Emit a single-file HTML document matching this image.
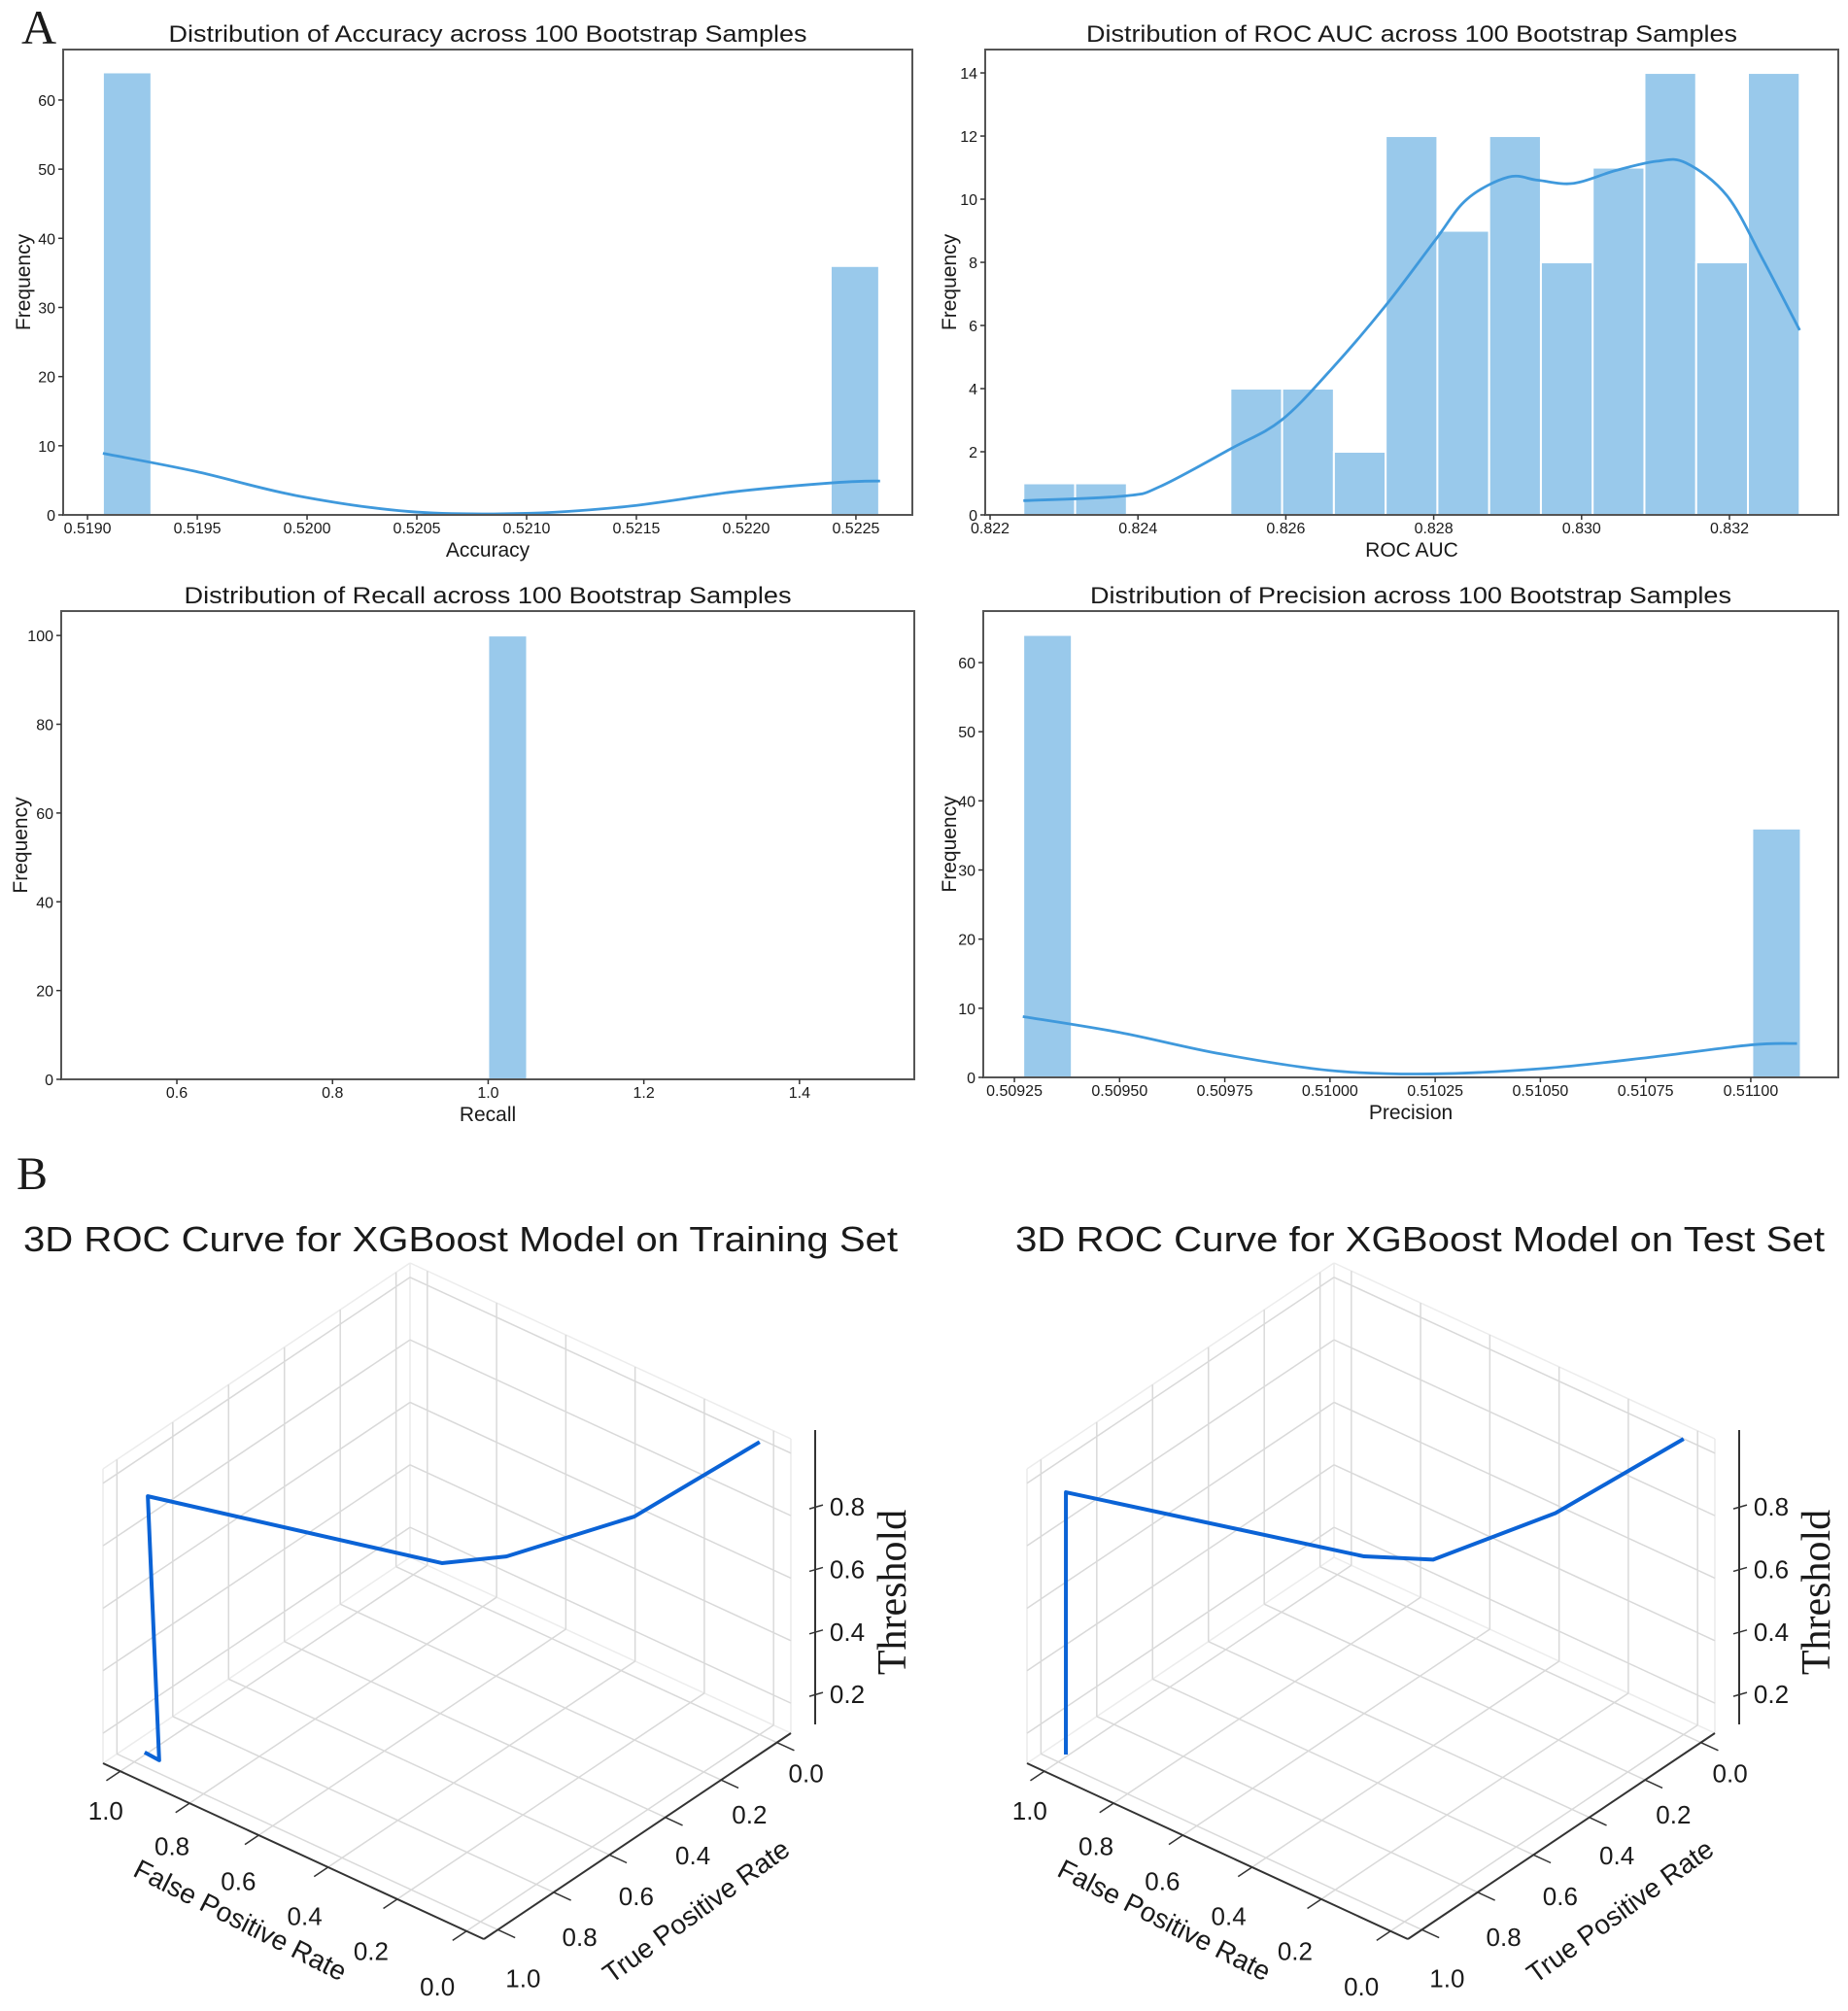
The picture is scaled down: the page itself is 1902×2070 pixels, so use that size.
<!DOCTYPE html>
<html><head><meta charset="utf-8">
<style>
html,body{margin:0;padding:0;background:#fff;}
svg{display:block;}
text{font-family:"Liberation Sans",Arial,sans-serif;fill:#1a1a1a;}
.serif{font-family:"Liberation Serif","DejaVu Serif",serif;}
</style></head>
<body>
<svg id="fig" xmlns="http://www.w3.org/2000/svg" width="1902" height="2070" viewBox="0 0 1902 2070">
<rect x="0" y="0" width="1902" height="2070" fill="#fff"/>
<text class="serif" x="22" y="45" font-size="50">A</text>
<text class="serif" x="17" y="1224" font-size="48">B</text>
</svg>
<script>
// ---------- Histogram data ----------
const accCounts = [64,0,0,0,0,0,0,0,0,0,0,0,0,0,0,36];
const accKdeX = [0.51907,0.51949,0.51995,0.52046,0.52097,0.52145,0.52196,0.52242,0.52261];
const accKdeY = [8.9,6.3,2.8,0.5,0.2,1.2,3.4,4.7,4.9];
const accXTicks = [0.5190,0.5195,0.5200,0.5205,0.5210,0.5215,0.5220,0.5225];
const accYTicks = [0,10,20,30,40,50,60];

const aucCounts = [1,1,0,0,4,4,2,12,9,12,8,11,14,8,14];
const aucKdeX = [0.82245,0.82382,0.8243,0.82526,0.82594,0.82661,0.82734,0.82802,0.82845,0.82901,0.82941,0.82989,0.83045,0.83101,0.83141,0.83197,0.83245,0.83295];
const aucKdeY = [0.45,0.6,0.9,2.1,3.0,4.6,6.6,8.7,10,10.7,10.6,10.5,10.9,11.2,11.15,10.1,8.1,5.85];
const aucXTicks = [0.822,0.824,0.826,0.828,0.830,0.832];
const aucYTicks = [0,2,4,6,8,10,12,14];

const recCounts = [100];
const recXTicks = [0.6,0.8,1.0,1.2,1.4];
const recYTicks = [0,20,40,60,80,100];

const preCounts = [64,0,0,0,0,0,0,0,0,0,0,0,0,0,0,36];
const preKdeX = [0.50927,0.5095,0.50974,0.51,0.51024,0.51051,0.51076,0.511,0.51111];
const preKdeY = [8.8,6.5,3.4,1.0,0.5,1.3,2.9,4.7,4.9];
const preXTicks = [0.50925,0.50950,0.50975,0.51000,0.51025,0.51050,0.51075,0.51100];
const preYTicks = [0,10,20,30,40,50,60];

// ---------- 3D ROC data ----------
const trainFpr = [0.0,0.10,0.288,0.434,0.977,0.928,0.97];
const trainTpr = [0.0,0.325,0.55,0.60,0.98,1.0,1.0];
const trainThr = [1.04,0.945,0.856,0.79,0.954,0.146,0.15];
const testFpr = [0.0,0.104,0.28,0.439,0.994,0.978];
const testTpr = [0.0,0.33,0.55,0.60,0.98,1.0];
const testThr = [1.05,0.957,0.85,0.809,0.958,0.139];
const rocTicks = [0,0.2,0.4,0.6,0.8,1.0];
const thrTicks = [0.2,0.4,0.6,0.8];

const NS = "http://www.w3.org/2000/svg";
const svg = document.getElementById('fig');
function mk(tag, attrs, parent){
  const e = document.createElementNS(NS, tag);
  for (const k in attrs) e.setAttribute(k, attrs[k]);
  (parent||svg).appendChild(e);
  return e;
}
function smoothPath(pts){
  let d = "M"+pts[0][0]+","+pts[0][1];
  for (let i=0;i<pts.length-1;i++){
    const p0=pts[Math.max(0,i-1)], p1=pts[i], p2=pts[i+1], p3=pts[Math.min(pts.length-1,i+2)];
    const c1=[p1[0]+(p2[0]-p0[0])/6, p1[1]+(p2[1]-p0[1])/6];
    const c2=[p2[0]-(p3[0]-p1[0])/6, p2[1]-(p3[1]-p1[1])/6];
    d += " C"+c1[0]+","+c1[1]+" "+c2[0]+","+c2[1]+" "+p2[0]+","+p2[1];
  }
  return d;
}

function hist(c){
  const g = mk('g', {});
  
  
  const sx = v => c.L + (v - c.xmin)/(c.xmax - c.xmin)*(c.R - c.L);
  const sy = v => c.B - (v - 0)/(c.ymax)*(c.B - c.T);
  c.counts.forEach((n,i)=>{
    if (n<=0) return;
    const x0 = sx(c.binStart + i*c.binW), x1 = sx(c.binStart + (i+1)*c.binW);
    const r = mk('rect', {x:x0, y:sy(n), width:x1-x0, height:sy(0)-sy(n), fill:'#99c9eb', stroke:'#ffffff', 'stroke-width':2}, g);
    
    
  });
  if (c.kx){
    const pts = c.kx.map((v,i)=>[sx(v), sy(c.ky[i])]);
    const p = mk('path', {d:smoothPath(pts), fill:'none', stroke:'#3f99dc', 'stroke-width':2.8}, g);
    
    
  }
  const f = mk('rect', {x:c.L, y:c.T, width:c.R-c.L, height:c.B-c.T, fill:'none', stroke:'#555', 'stroke-width':2}, g);
  
  
  c.xt.forEach(v=>{
    const x = sx(v);
    mk('line', {x1:x, y1:c.B, x2:x, y2:c.B+5, stroke:'#333', 'stroke-width':1.5}, g);
    const t = mk('text', {x:x, y:c.B+19, 'font-size':16, 'text-anchor':'middle'}, g);
    t.textContent = v.toFixed(c.xdec);
    
    
  });
  c.yt.forEach(v=>{
    const y = sy(v);
    mk('line', {x1:c.L-5, y1:y, x2:c.L, y2:y, stroke:'#333', 'stroke-width':1.5}, g);
    const t = mk('text', {x:c.L-8, y:y+6, 'font-size':16, 'text-anchor':'end'}, g);
    t.textContent = String(v);
    
    
  });
  const title = mk('text', {x:(c.L+c.R)/2, y:c.T-8, 'font-size':24, 'text-anchor':'middle', textLength:c.titleW, lengthAdjust:'spacingAndGlyphs'}, g);
  title.textContent = c.title;
  
  
  const xl = mk('text', {x:(c.L+c.R)/2, y:c.B+43, 'font-size':21, 'text-anchor':'middle'}, g);
  xl.textContent = c.xlabel;
  
  
  const yc = (c.T+c.B)/2;
  const yl = mk('text', {x:c.ylx, y:yc, 'font-size':21, 'text-anchor':'middle', transform:'rotate(-90 '+c.ylx+' '+yc+')'}, g);
  yl.textContent = 'Frequency';
  
  
}

hist({name:'accuracy-histogram', L:65, R:939, T:51, B:530, xmin:0.518889, xmax:0.522757, ymax:67.3,
  binStart:0.51907, binW:0.000221, counts:accCounts, kx:accKdeX, ky:accKdeY, xt:accXTicks, xdec:4, yt:accYTicks,
  title:'Distribution of Accuracy across 100 Bootstrap Samples', titleW:657, xlabel:'Accuracy', ylx:31});
hist({name:'roc-auc-histogram', L:1014, R:1892, T:51, B:530, xmin:0.821934, xmax:0.833472, ymax:14.74,
  binStart:0.82245, binW:0.0007, counts:aucCounts, kx:aucKdeX, ky:aucKdeY, xt:aucXTicks, xdec:3, yt:aucYTicks,
  title:'Distribution of ROC AUC across 100 Bootstrap Samples', titleW:670, xlabel:'ROC AUC', ylx:984});
hist({name:'recall-histogram', L:63, R:941, T:629, B:1111, xmin:0.4514, xmax:1.5475, ymax:105.5,
  binStart:1.0, binW:0.05, counts:recCounts, kx:null, ky:null, xt:recXTicks, xdec:1, yt:recYTicks,
  title:'Distribution of Recall across 100 Bootstrap Samples', titleW:625, xlabel:'Recall', ylx:28});
hist({name:'precision-histogram', L:1012, R:1892, T:629, B:1109, xmin:0.509176, xmax:0.511208, ymax:67.45,
  binStart:0.509271, binW:0.0001155, counts:preCounts, kx:preKdeX, ky:preKdeY, xt:preXTicks, xdec:5, yt:preYTicks,
  title:'Distribution of Precision across 100 Bootstrap Samples', titleW:660, xlabel:'Precision', ylx:984});

// ---------- 3D plots ----------
const ZMIN = 0.104, ZMAX = 1.046, LO = -0.05, HI = 1.05;
function roc3d(name, ox, title, titleX, titleW, fpr, tpr, thr){
  const g = mk('g', {});
  
  
  const P = (f,t,z) => {
    const fp = (f-LO)/(HI-LO), tp = (HI-t)/(HI-LO), zf = (z-ZMIN)/(ZMAX-ZMIN);
    return [ox + 498 - 392*fp + 316*tp, 1996 - 181*fp - 212*tp - 303*zf];
  };
  const line = (a,b,attrs) => mk('line', Object.assign({x1:a[0],y1:a[1],x2:b[0],y2:b[1]}, attrs), g);
  const gridA = {stroke:'#d9d9d9','stroke-width':1.5};
  const edgeA = {stroke:'#ececec','stroke-width':1.5};
  line(P(HI,LO,ZMIN),P(HI,LO,ZMAX),edgeA); line(P(HI,HI,ZMIN),P(HI,HI,ZMAX),edgeA);
  line(P(LO,LO,ZMIN),P(LO,LO,ZMAX),edgeA);
  line(P(HI,HI,ZMAX),P(HI,LO,ZMAX),edgeA); line(P(HI,LO,ZMAX),P(LO,LO,ZMAX),edgeA);
  line(P(HI,HI,ZMIN),P(HI,LO,ZMIN),edgeA); line(P(HI,LO,ZMIN),P(LO,LO,ZMIN),edgeA);
  rocTicks.forEach(v=>{
    line(P(v,LO,ZMIN),P(v,HI,ZMIN),gridA);
    line(P(LO,v,ZMIN),P(HI,v,ZMIN),gridA);
    line(P(HI,v,ZMIN),P(HI,v,ZMAX),gridA);
    line(P(v,LO,ZMIN),P(v,LO,ZMAX),gridA);
  });
  thrTicks.concat([1.0]).forEach(z=>{
    line(P(HI,LO,z),P(HI,HI,z),gridA);
    line(P(LO,LO,z),P(HI,LO,z),gridA);
  });
  const axA = {stroke:'#333','stroke-width':2};
  line(P(HI,HI,ZMIN),P(LO,HI,ZMIN),axA);
  line(P(LO,HI,ZMIN),P(LO,LO,ZMIN),axA);
  const zb = P(LO,LO,ZMIN), zt = P(LO,LO,ZMAX);
  const zax = [zb[0]+25, zb[1]-9], zax2 = [zt[0]+25, zt[1]-9];
  line(zax, zax2, axA);
  rocTicks.forEach(v=>{
    const a = P(v,HI,ZMIN), b = P(v,HI+0.05,ZMIN);
    line(a,b,{stroke:'#333','stroke-width':1.5});
    const t = mk('text', {x:a[0]-30+15*v, y:a[1]+57-16*v+9, 'font-size':26, 'text-anchor':'middle'}, g);
    t.textContent = v.toFixed(1);
    
    
    const c = P(LO,v,ZMIN), d = P(LO-0.05,v,ZMIN);
    line(c,d,{stroke:'#333','stroke-width':1.5});
    const u = mk('text', {x:c[0]+30-4*v, y:c[1]+32+18*v+9, 'font-size':26, 'text-anchor':'middle'}, g);
    u.textContent = v.toFixed(1);
    
    
  });
  thrTicks.forEach(z=>{
    const y = zax[1] - (z-ZMIN)/(ZMAX-ZMIN)*303;
    line([zax[0]-6,y+2],[zax[0]+8,y-2],{stroke:'#333','stroke-width':1.5});
    const t = mk('text', {x:zax[0]+33, y:y+9, 'font-size':26, 'text-anchor':'middle'}, g);
    t.textContent = z.toFixed(1);
    
    
  });
  const fx = ox+243, fy = 1985;
  const ft = mk('text', {x:fx, y:fy, 'font-size':28, 'text-anchor':'middle', transform:'rotate(27 '+fx+' '+fy+')'}, g);
  ft.textContent = 'False Positive Rate';
  
  
  const tx = ox+722, ty = 1975;
  const tt = mk('text', {x:tx, y:ty, 'font-size':28, 'text-anchor':'middle', transform:'rotate(-36 '+tx+' '+ty+')'}, g);
  tt.textContent = 'True Positive Rate';
  
  
  const hx = ox+932, hy = 1639;
  const ht = mk('text', {x:hx, y:hy, 'font-size':42, 'text-anchor':'middle', 'class':'serif', transform:'rotate(-90 '+hx+' '+hy+')'}, g);
  ht.textContent = 'Threshold';
  
  
  const pts = fpr.map((f,i)=>P(f,tpr[i],thr[i]));
  const pl = mk('polyline', {points:pts.map(p=>p.join(',')).join(' '), fill:'none', stroke:'#0b63d6', 'stroke-width':4, 'stroke-linejoin':'round'}, g);
  
  
  const ti = mk('text', {x:titleX, y:1288, 'font-size':36, textLength:titleW, lengthAdjust:'spacingAndGlyphs'}, g);
  ti.textContent = title;
  
  
}
roc3d('roc-3d-training', 0, '3D ROC Curve for XGBoost Model on Training Set', 24, 900, trainFpr, trainTpr, trainThr);
roc3d('roc-3d-test', 951, '3D ROC Curve for XGBoost Model on Test Set', 1045, 833, testFpr, testTpr, testThr);
</script>
</body></html>
